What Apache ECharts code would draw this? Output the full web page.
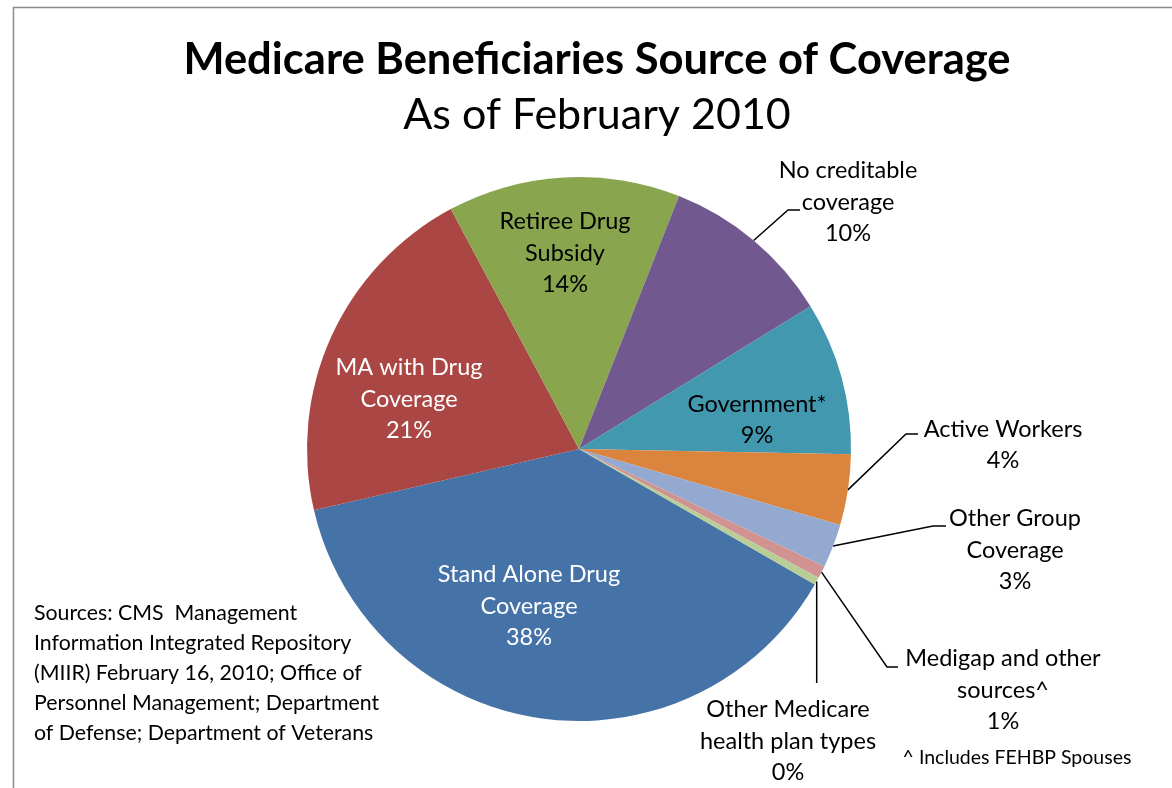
<!DOCTYPE html>
<html>
<head>
<meta charset="utf-8">
<script src="https://cdn.jsdelivr.net/npm/echarts@6/dist/echarts.min.js"></script>
<style>
html,body{margin:0;padding:0;background:#fff;}
#chart{width:1172px;height:788px;}
</style>
</head>
<body>
<div id="chart"></div>
<script>
// ---- data ----
const categories = [
  'Stand Alone Drug\nCoverage',
  'MA with Drug\nCoverage',
  'Retiree Drug\nSubsidy',
  'No creditable\ncoverage',
  'Government*',
  'Active Workers',
  'Other Group\nCoverage',
  'Medigap and other\nsources^',
  'Other Medicare\nhealth plan types'
];
const shares = [38.06, 20.8, 13.8, 10.2, 9.1, 4.2, 2.6, 0.75, 0.45];
const titleText = 'Medicare Beneficiaries Source of Coverage';
const subtitleText = 'As of February 2010';
const sourceLines = [
  'Sources: CMS  Management',
  'Information Integrated Repository',
  '(MIIR) February 16, 2010; Office of',
  'Personnel Management; Department',
  'of Defense; Department of Veterans'
];
const footnoteText = '^ Includes FEHBP Spouses';

// ---- styles / layout ----
const colors = ['#4572A7','#AA4643','#89A54E','#71588F','#4198AF','#DB843D','#93A9CF','#D19392','#B9CD96'];
const FONT = 'Lato, "Open Sans", sans-serif';
const labelCfg = [
  {x:529, y:606, color:'#fff'},
  {x:409, y:399, color:'#fff'},
  {x:565, y:253, color:'#000'},
  {x:848, y:202, color:'#000', bend:[788,210], end:[800,210]},
  {x:757, y:420, color:'#000'},
  {x:1003, y:445, color:'#000', bend:[906,434], end:[918,434]},
  {x:1015, y:550, color:'#000', bend:[933,526], end:[946,526]},
  {x:1003, y:690, color:'#000', bend:[887,667], end:[898,667]},
  {x:788, y:741, color:'#000', vertEnd:683}
];

const data = categories.map((c, i) => {
  const cfg = labelCfg[i];
  const outside = !!(cfg.bend || cfg.vertEnd);
  return {
    name: c,
    value: shares[i],
    itemStyle: {color: colors[i]},
    label: {position: outside ? 'outside' : 'inside', color: cfg.color},
    labelLine: {show: outside, length: 10, length2: 10}
  };
});

const chart = echarts.init(document.getElementById('chart'), null, {renderer: 'canvas'});
const graphics = [
  {type:'rect', shape:{x:13.5, y:7.5, width:1300, height:900}, style:{fill:'none', stroke:'#8c8c8c', lineWidth:1.5}, silent:true},
  {type:'text', x:597, y:60, style:{text:titleText, font:'bold 43.5px ' + FONT, fill:'#000', align:'center', verticalAlign:'middle', textAlign:'center', textVerticalAlign:'middle'}},
  {type:'text', x:597, y:115, style:{text:subtitleText, font:'43px ' + FONT, fill:'#000', align:'center', verticalAlign:'middle', textAlign:'center', textVerticalAlign:'middle'}},
  {type:'text', x:1017, y:758, style:{text:footnoteText, font:'19.5px ' + FONT, fill:'#000', align:'center', verticalAlign:'middle', textAlign:'center', textVerticalAlign:'middle'}}
];
sourceLines.forEach((t, i) => {
  graphics.push({type:'text', x:34, y:613.5 + i*29.8, style:{text:t, font:'21.3px ' + FONT, fill:'#000', align:'left', verticalAlign:'middle', textAlign:'left', textVerticalAlign:'middle'}});
});

chart.setOption({
  animation: false,
  backgroundColor: '#fff',
  graphic: graphics,
  series: [{
    type: 'pie',
    center: [579, 449],
    radius: 272,
    startAngle: -29.9,
    clockwise: true,
    avoidLabelOverlap: false,
    percentPrecision: 2,
    data: data,
    itemStyle: {borderWidth: 0},
    emphasis: {disabled: true},
    label: {
      fontFamily: FONT,
      fontSize: 23.5,
      lineHeight: 31.5,
      align: 'center',
      formatter: p => p.name + '\n' + Math.round(p.percent) + '%'
    },
    labelLine: {lineStyle: {color: '#000', width: 1.5}},
    labelLayout: function (params) {
      const cfg = labelCfg[params.dataIndex];
      const res = {x: cfg.x, y: cfg.y, align: 'center', verticalAlign: 'middle', hideOverlap: false, moveOverlap: null};
      if (params.labelLinePoints && (cfg.bend || cfg.vertEnd)) {
        const s = params.labelLinePoints[0];
        if (cfg.bend) {
          res.labelLinePoints = [[s[0], s[1]], cfg.bend, cfg.end];
        } else {
          res.labelLinePoints = [[s[0], s[1]], [s[0], (s[1] + cfg.vertEnd) / 2], [s[0], cfg.vertEnd]];
        }
      }
      return res;
    }
  }]
});
</script>
</body>
</html>
